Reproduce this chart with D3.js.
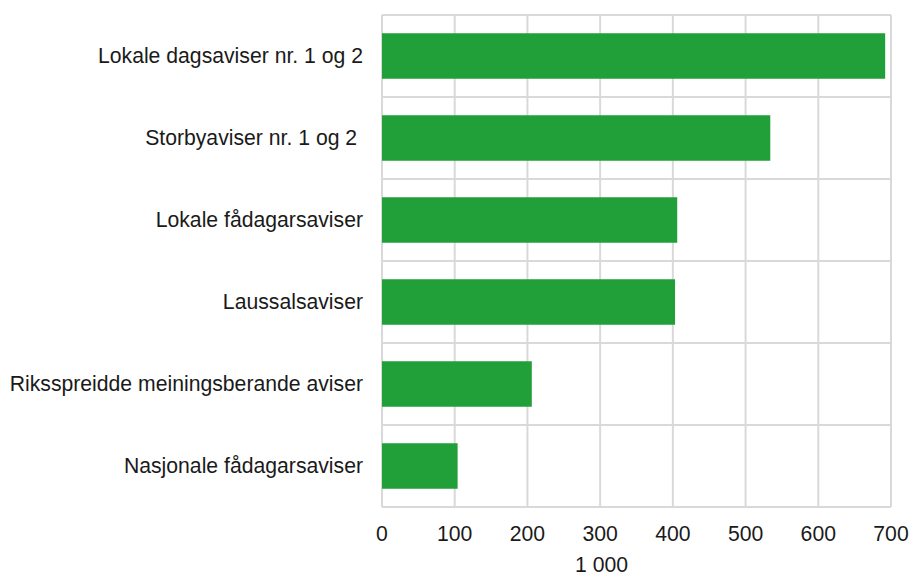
<!DOCTYPE html>
<html><head><meta charset="utf-8">
<script src="https://cdn.jsdelivr.net/npm/d3@7/dist/d3.min.js"></script>
<style>body{margin:0;background:#fff}svg{display:block}text{font-family:"Liberation Sans",Arial,sans-serif;fill:#1a1a1a}</style>
</head><body><div id="chart"></div>
<script>
const categories = ["Lokale dagsaviser nr. 1 og 2","Storbyaviser nr. 1 og 2 ","Lokale fådagarsaviser","Laussalsaviser","Riksspreidde meiningsberande aviser","Nasjonale fådagarsaviser"];
const values = [692, 534, 406, 403, 206, 104];
const xTicks = [0,100,200,300,400,500,600,700];
const axisTitle = "1 000";

const W = 911, H = 576;
const m = {left:382, right:20, top:15, bottom:69};
const FS = 21.2;
const svg = d3.select("#chart").append("svg").attr("width",W).attr("height",H);
const x = d3.scaleLinear().domain([0,700]).range([m.left, W-m.right]);
const y = d3.scaleBand().domain(categories).range([m.top, H-m.bottom]).paddingInner(0.445).paddingOuter(0.2225);
const grid = "#d9d9d9";
const bandEdges = d3.range(categories.length+1).map(i => m.top + i*(H-m.bottom-m.top)/categories.length);
svg.append("g").selectAll("line").data(bandEdges).join("line")
  .attr("x1",x(0)).attr("x2",x(700)).attr("y1",d=>d).attr("y2",d=>d)
  .attr("stroke",grid).attr("stroke-width",2);
svg.append("g").selectAll("line").data(xTicks).join("line")
  .attr("x1",d=>x(d)).attr("x2",d=>x(d)).attr("y1",m.top).attr("y2",H-m.bottom)
  .attr("stroke",grid).attr("stroke-width",2);
svg.append("g").selectAll("rect").data(values).join("rect")
  .attr("x",x(0)).attr("y",(d,i)=>y(categories[i]))
  .attr("width",d=>x(d)-x(0)).attr("height",y.bandwidth())
  .attr("fill","#21a039");
svg.append("g").selectAll("text").data(categories).join("text")
  .attr("x",m.left-19).attr("y",d=>y(d)+y.bandwidth()/2+7)
  .attr("text-anchor","end").attr("font-size",FS).style("white-space","pre").text(d=>d);
svg.append("g").selectAll("text").data(xTicks).join("text")
  .attr("x",d=>x(d)).attr("y",541)
  .attr("text-anchor","middle").attr("font-size",FS).text(d=>d);
svg.append("text").attr("x",601.5).attr("y",572)
  .attr("text-anchor","middle").attr("font-size",FS).text(axisTitle);
</script></body></html>
